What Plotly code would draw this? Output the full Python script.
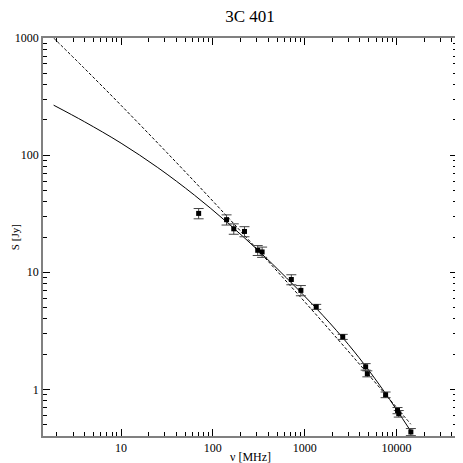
import plotly.graph_objects as go
import numpy as np

# measured flux densities of 3C 401
freq_mhz = [70, 141, 169, 221, 308, 344, 716, 910, 1337, 2600, 4620, 4820, 7620, 10280, 10600, 14360]
flux_jy = [31.8, 28.1, 23.5, 22.3, 15.4, 14.9, 8.67, 7.0, 5.07, 2.81, 1.56, 1.36, 0.90, 0.66, 0.62, 0.433]
flux_err = [3.2, 2.8, 2.4, 2.2, 1.5, 1.5, 0.85, 0.7, 0.25, 0.14, 0.1, 0.08, 0.05, 0.04, 0.04, 0.03]

# model curves
solid_freq = [1.84, 3.98, 10, 25.1, 63.1, 141, 316, 631, 1324, 2600, 4467, 7500, 14220]
solid_flux = [267, 193, 126.5, 78.3, 45.5, 26.9, 15.2, 8.99, 4.97, 2.76, 1.633, 0.938, 0.444]

dashed_freq = [1.84, 3.98, 10, 31.6, 100, 316, 1000, 3162, 10000, 14350]
dashed_flux = [1000, 551, 266, 105, 40.5, 15.2, 5.6, 2.01, 0.704, 0.504]

# axis ticks
x_major = [10, 100, 1000, 10000]
x_major_text = ['10', '100', '1000', '10000']
y_major = [1, 10, 100, 1000]
y_major_text = ['1', '10', '100', '1000']
x_minor = [m * 10 ** d for d in range(0, 5) for m in range(2, 10)]
y_minor = [m * 10 ** d for d in range(-1, 3) for m in range(2, 10)]

serif = "Liberation Serif"
x_range = [np.log10(1.41), np.log10(45700)]
y_range = [np.log10(0.4), 3]

fig = go.Figure()
fig.add_trace(go.Scatter(x=solid_freq, y=solid_flux, mode='lines',
                         line=dict(color='black', width=1, shape='spline')))
fig.add_trace(go.Scatter(x=dashed_freq, y=dashed_flux, mode='lines',
                         line=dict(color='black', width=1, dash='3px,2px', shape='spline')))
fig.add_trace(go.Scatter(x=freq_mhz, y=flux_jy, mode='markers',
                         marker=dict(symbol='square', size=5, color='black'),
                         error_y=dict(type='data', array=flux_err, color='#444444',
                                      thickness=1, width=5)))

base = dict(type='log', showgrid=False, zeroline=False, ticks='inside', ticklen=7,
            tickcolor='black', tickwidth=1, mirror='allticks', tickmode='array',
            showline=True, linecolor='#808080', linewidth=1.5,
            tickfont=dict(family=serif, size=12, color='black'))

# the page body has an 8px margin, so the figure is sized to fit inside the window
fig.update_layout(
    width=455, height=455,
    margin=dict(l=35, r=4, t=30, b=27),
    paper_bgcolor='white', plot_bgcolor='white',
    font=dict(family=serif, size=12, color='black'),
    showlegend=False,
    title=dict(text='3C 401', x=0.5, xref='paper', y=1, yref='container',
               xanchor='center', yanchor='top', pad=dict(t=2, b=0),
               font=dict(family=serif, size=17, color='black')),
    xaxis=dict(base, range=x_range, tickvals=x_major, ticktext=x_major_text,
               minor=dict(tickmode='array', tickvals=x_minor, ticks='inside', ticklen=4,
                          tickcolor='black', tickwidth=1, showgrid=False)),
    yaxis=dict(base, range=y_range, tickvals=y_major, ticktext=y_major_text,
               minor=dict(tickmode='array', tickvals=y_minor, ticks='inside', ticklen=4,
                          tickcolor='black', tickwidth=1, showgrid=False)),
    annotations=[
        dict(text='ν [MHz]', xref='paper', yref='paper', x=0.5, y=-21 / 398,
             xanchor='center', yanchor='middle', showarrow=False,
             font=dict(family=serif, size=12, color='black')),
        dict(text='S [Jy]', xref='paper', yref='paper', x=-28 / 416, y=0.5,
             xanchor='center', yanchor='middle', showarrow=False, textangle=-90,
             font=dict(family=serif, size=11, color='black')),
    ],
)

fig.write_html("out.html")
